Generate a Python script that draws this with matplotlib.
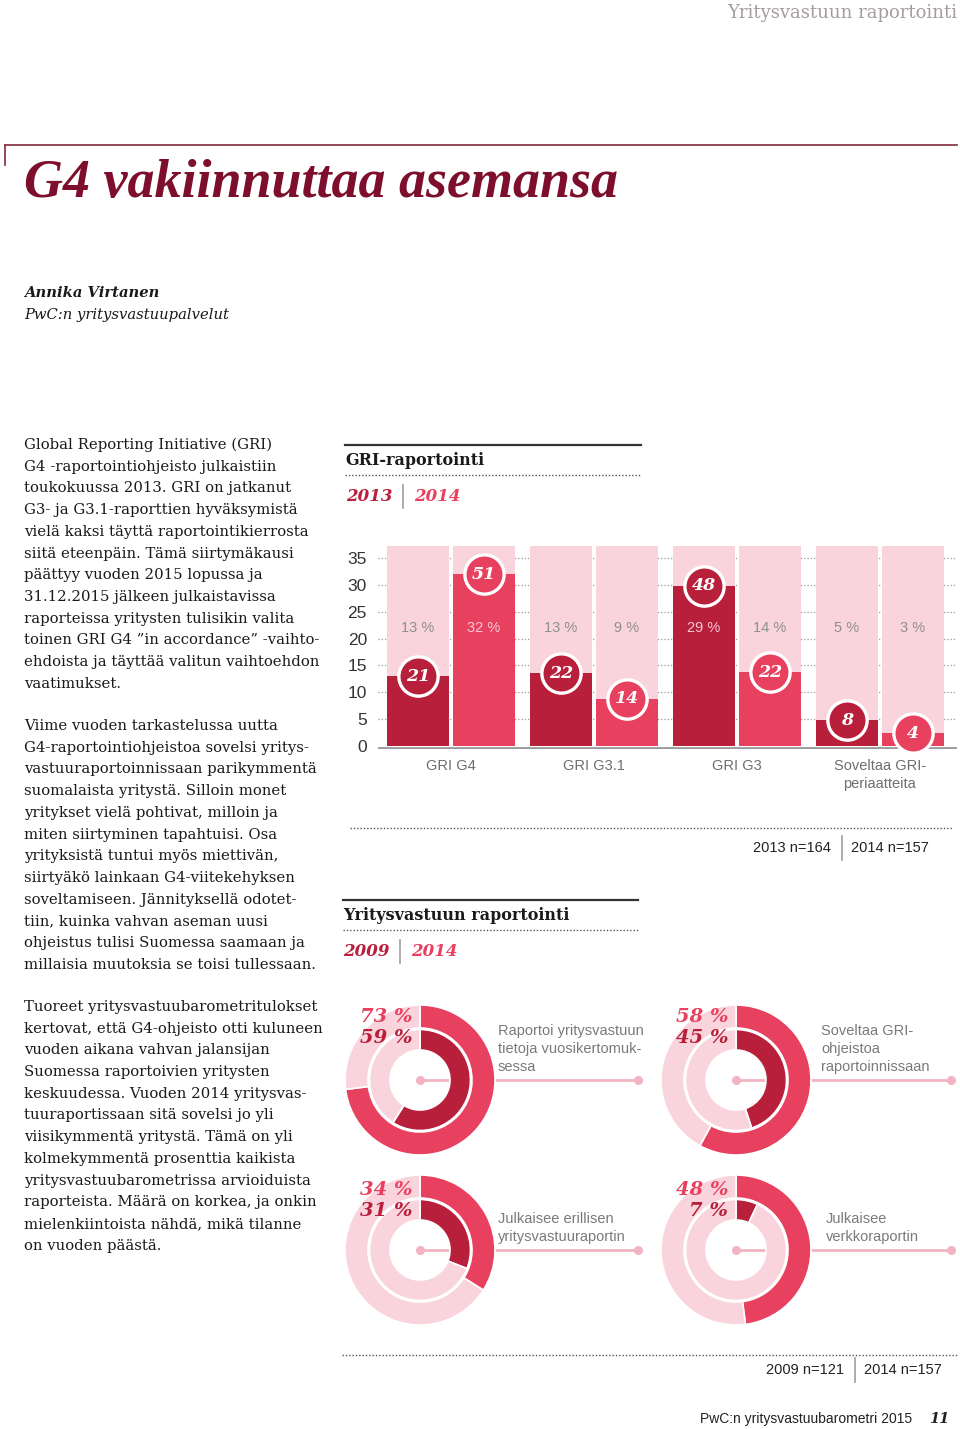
import numpy as np
import matplotlib
matplotlib.use('Agg')
import matplotlib.pyplot as plt

W, H = 960, 1429

# --- data -------------------------------------------------------------
categories = ['GRI G4', 'GRI G3.1', 'GRI G3', 'Soveltaa GRI-\nperiaatteita']
share_2013 = [13, 13.5, 29.8, 4.8]      # bar heights (%)
share_2014 = [32, 8.8, 13.7, 2.4]
pct_2013 = ['13 %', '13 %', '29 %', '5 %']
pct_2014 = ['32 %', '9 %', '14 %', '3 %']
count_2013 = [21, 22, 48, 8]
count_2014 = [51, 14, 22, 4]
y_ticks = [0, 5, 10, 15, 20, 25, 30, 35]

donut_labels = ['Raportoi yritysvastuun\ntietoja vuosikertomuk-\nsessa',
                'Soveltaa GRI-\nohjeistoa\nraportoinnissaan',
                'Julkaisee erillisen\nyritysvastuuraportin',
                'Julkaisee\nverkkoraportin']
donut_2009 = [59, 45, 31, 7]
donut_2014 = [73, 58, 34, 48]

para1 = ['Global Reporting Initiative (GRI)',
         'G4 -raportointiohjeisto julkaistiin',
         'toukokuussa 2013. GRI on jatkanut',
         'G3- ja G3.1-raporttien hyväksymistä',
         'vielä kaksi täyttä raportointikierrosta',
         'siitä eteenpäin. Tämä siirtymäkausi',
         'päättyy vuoden 2015 lopussa ja',
         '31.12.2015 jälkeen julkaistavissa',
         'raporteissa yritysten tulisikin valita',
         'toinen GRI G4 ”in accordance” -vaihto-',
         'ehdoista ja täyttää valitun vaihtoehdon',
         'vaatimukset.']
para2 = ['Viime vuoden tarkastelussa uutta',
         'G4-raportointiohjeistoa sovelsi yritys-',
         'vastuuraportoinnissaan parikymmentä',
         'suomalaista yritystä. Silloin monet',
         'yritykset vielä pohtivat, milloin ja',
         'miten siirtyminen tapahtuisi. Osa',
         'yrityksistä tuntui myös miettivän,',
         'siirtyäkö lainkaan G4-viitekehyksen',
         'soveltamiseen. Jännityksellä odotet-',
         'tiin, kuinka vahvan aseman uusi',
         'ohjeistus tulisi Suomessa saamaan ja',
         'millaisia muutoksia se toisi tullessaan.']
para3 = ['Tuoreet yritysvastuubarometritulokset',
         'kertovat, että G4-ohjeisto otti kuluneen',
         'vuoden aikana vahvan jalansijan',
         'Suomessa raportoivien yritysten',
         'keskuudessa. Vuoden 2014 yritysvas-',
         'tuuraportissaan sitä sovelsi jo yli',
         'viisikymmentä yritystä. Tämä on yli',
         'kolmekymmentä prosenttia kaikista',
         'yritysvastuubarometrissa arvioiduista',
         'raporteista. Määrä on korkea, ja onkin',
         'mielenkiintoista nähdä, mikä tilanne',
         'on vuoden päästä.']

# --- style ------------------------------------------------------------
DARK = '#b81f3b'
PINK = '#e8405f'
PALE = '#f9d4dd'
MAROON = '#7d0e2c'
CONN = '#f2b4c3'
SERIF = 'DejaVu Serif'
SANS = 'Liberation Sans'

fig = plt.figure(figsize=(W / 100, H / 100), dpi=100)
fig.patch.set_facecolor('white')


def px_axes(x0, y0, x1, y1):
    return fig.add_axes([x0 / W, 1 - y1 / H, (x1 - x0) / W, (y1 - y0) / H])


def pixel_layer():
    a = fig.add_axes([0, 0, 1, 1])
    a.set_xlim(0, W)
    a.set_ylim(H, 0)
    a.axis('off')
    a.patch.set_alpha(0)
    return a


# background layer (under the donuts): connector lines
under = pixel_layer()
centers = [(420, 1080), (736, 1080), (420, 1250), (736, 1250)]
line_end = [638, 951, 638, 951]
for i, (cx, cy) in enumerate(centers):
    under.plot([cx, line_end[i]], [cy, cy], color=CONN, lw=2)
    under.plot([cx, line_end[i]], [cy, cy], 'o', color=CONN, ms=5.5)

# --- bar chart --------------------------------------------------------
ax = px_axes(378, 546.2, 957, 749.2)
ax.set_xlim(-0.606, 8.17)
ax.set_ylim(-0.6, 37.2)
bg_top = 37.2
group_pitch = 2.167
for g in range(len(categories)):
    for k, (vals, pcts, cnts, col) in enumerate([(share_2013, pct_2013, count_2013, DARK),
                                                  (share_2014, pct_2014, count_2014, PINK)]):
        x = g * group_pitch + k
        ax.bar(x, bg_top, width=0.94, color=PALE, zorder=1)
        ax.bar(x, vals[g], width=0.94, color=col, zorder=2)
        on_bar = vals[g] > 23
        ax.text(x, 22, pcts[g], ha='center', va='center', fontsize=10.5,
                family=SANS, color='#f7c8d3' if on_bar else '#8f8f8f', zorder=3)
        ax.scatter([x], [vals[g]], s=800, color=col, edgecolor='white',
                   linewidth=2.4, zorder=5, clip_on=False)
        ax.text(x, vals[g], str(cnts[g]), ha='center', va='center', fontsize=12.5,
                family=SERIF, fontweight='bold', fontstyle='italic', color='white', zorder=6)
    ax.text(g * group_pitch + 0.5, -2.4, categories[g], ha='center', va='top',
            fontsize=10.5, family=SANS, color='#6e6e6e', linespacing=1.35)
ax.axhline(-0.35, color='#9a9a9a', lw=2, zorder=4)
ax.set_yticks(y_ticks)
ax.set_yticklabels([str(t) for t in y_ticks], family=SANS, fontsize=12.5, color='#333333')
ax.tick_params(axis='y', length=0, pad=8)
ax.set_xticks([])
for t in y_ticks[1:]:
    ax.axhline(t, color='#9a9a9a', lw=0.9, ls=(0, (1, 1.6)), zorder=0)
for s in ax.spines.values():
    s.set_visible(False)
ax.patch.set_alpha(0)

# --- donuts -----------------------------------------------------------
R = 75
for i, (cx, cy) in enumerate(centers):
    dax = px_axes(cx - R, cy - R, cx + R, cy + R)
    dax.pie([donut_2014[i], 100 - donut_2014[i]], radius=1.0, startangle=90,
            counterclock=False, colors=[PINK, PALE],
            wedgeprops=dict(width=23 / R, edgecolor='white', linewidth=1.2))
    dax.pie([donut_2009[i], 100 - donut_2009[i]], radius=50.5 / R, startangle=90,
            counterclock=False, colors=[DARK, PALE],
            wedgeprops=dict(width=20.5 / R, edgecolor='white', linewidth=1.2))
    dax.set_xlim(-1, 1)
    dax.set_ylim(-1, 1)
    dax.set_aspect('equal')
    dax.axis('off')
    dax.patch.set_alpha(0)

# --- overlay for text and rules (pixel coordinates) -------------------
ov = pixel_layer()

# header and title
ov.text(957, 13, 'Yritysvastuun raportointi', ha='right', va='center',
        family=SERIF, fontsize=13, color='#a59c9c')
ov.plot([5, 957], [145, 145], color='#8a3a4a', lw=1.3)
ov.plot([5, 5], [145, 165], color='#8a3a4a', lw=1.3)
title = ov.text(24, 184, 'G4 vakiinnuttaa asemansa', ha='left', va='center',
                family='Liberation Serif', fontsize=36, fontweight='bold',
                fontstyle='italic', color=MAROON)
fig.canvas.draw()
bb = title.get_window_extent()
title.set_fontsize(36 * 594 / bb.width)

ov.text(24, 293, 'Annika Virtanen', ha='left', va='center', family=SERIF,
        fontsize=10.6, fontweight='bold', fontstyle='italic', color='#1a1a1a')
ov.text(24, 315, 'PwC:n yritysvastuupalvelut', ha='left', va='center', family=SERIF,
        fontsize=10.6, fontstyle='italic', color='#1a1a1a')

for lines, y0 in [(para1, 445), (para2, 726), (para3, 1007)]:
    for j, line in enumerate(lines):
        ov.text(24, y0 + j * 21.7, line, ha='left', va='center', family=SERIF,
                fontsize=10.7, color='#1a1a1a')


def section(x0, x1, y_rule, heading, y_years, years, sep_x):
    ov.plot([x0, x1], [y_rule, y_rule], color='#333333', lw=1.6)
    ov.text(x0, y_rule + 15, heading, ha='left', va='center', family=SERIF,
            fontsize=11.5, fontweight='bold', color='#1a1a1a')
    ov.plot([x0, x1], [y_rule + 30, y_rule + 30], color='#555555', lw=1.0, ls=(0, (1, 1.4)))
    ov.text(sep_x - 10, y_years, years[0], ha='right', va='center', family=SERIF,
            fontsize=12, fontweight='bold', fontstyle='italic', color=DARK)
    ov.plot([sep_x, sep_x], [y_years - 11, y_years + 12], color='#a89a9a', lw=1.2)
    ov.text(sep_x + 11, y_years, years[1], ha='left', va='center', family=SERIF,
            fontsize=12, fontweight='bold', fontstyle='italic', color=PINK)


section(345, 641, 445, 'GRI-raportointi', 496, ['2013', '2014'], 403)
section(343, 638, 900, 'Yritysvastuun raportointi', 951, ['2009', '2014'], 400)


def sample_note(y_dots, x0, x1, y, sep_x, left, right):
    ov.plot([x0, x1], [y_dots, y_dots], color='#555555', lw=1.0, ls=(0, (1, 1.4)))
    ov.text(sep_x - 11, y, left, ha='right', va='center', family=SANS,
            fontsize=10.5, color='#222222')
    ov.plot([sep_x, sep_x], [y - 12, y + 12], color='#a89a9a', lw=1.2)
    ov.text(sep_x + 9, y, right, ha='left', va='center', family=SANS,
            fontsize=10.5, color='#222222')


sample_note(828, 350, 952, 848, 842, '2013 n=164', '2014 n=157')
sample_note(1355, 342, 958, 1370, 855, '2009 n=121', '2014 n=157')

# donut annotations
text_x = [498, 821, 498, 826]
for i, (cx, cy) in enumerate(centers):
    top = cy - 63 if i < 2 else cy - 60
    ov.text(cx - 8, top, f'{donut_2014[i]} %', ha='right', va='center', family=SERIF,
            fontsize=14, fontweight='bold', fontstyle='italic', color=PINK)
    ov.text(cx - 8, top + 21, f'{donut_2009[i]} %', ha='right', va='center', family=SERIF,
            fontsize=14, fontweight='bold', fontstyle='italic', color=DARK)
    n_lines = donut_labels[i].count('\n') + 1
    ty = cy - 49 if n_lines == 3 else cy - 31
    for j, line in enumerate(donut_labels[i].split('\n')):
        ov.text(text_x[i], ty + j * 18, line, ha='left', va='center', family=SANS,
                fontsize=10.5, color='#7a7a7a')

# footer
ov.text(912, 1419, 'PwC:n yritysvastuubarometri 2015', ha='right', va='center',
        family=SANS, fontsize=10, color='#222222')
ov.text(929, 1419, '11', ha='left', va='center', family=SERIF, fontsize=10.5,
        fontweight='bold', fontstyle='italic', color='#222222')

fig.savefig('out.png', dpi=100, facecolor='white')
